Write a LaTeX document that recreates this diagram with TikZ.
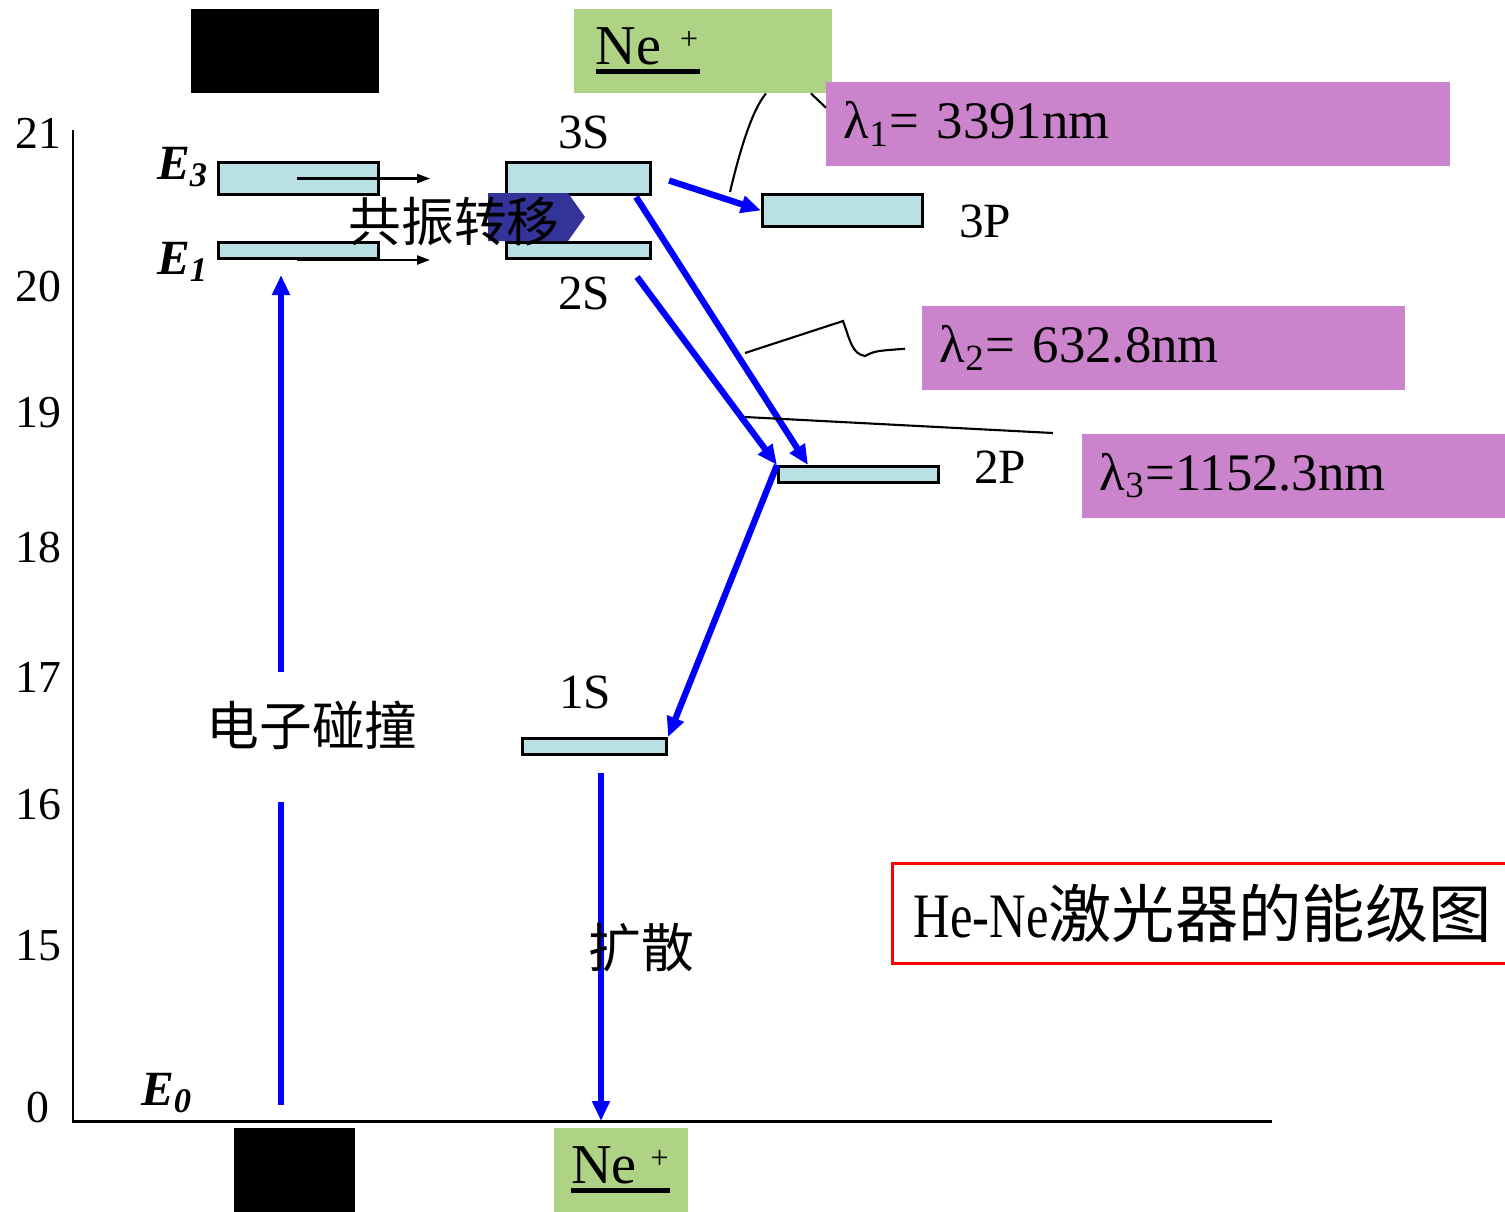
\documentclass[tikz,border=0pt]{standalone}
\usepackage{fontspec}
\setmainfont{Liberation Serif}
\newfontfamily\cjk{Noto Sans CJK SC}
\newcommand\ulthick[1]{\leavevmode\setbox0=\hbox{#1}\rlap{\rule[-0.09cm]{\wd0}{1.4pt}}\box0}
\usetikzlibrary{calc,arrows.meta}
\definecolor{levelcyan}{RGB}{185,224,227}
\definecolor{negreen}{RGB}{175,211,132}
\definecolor{lampurple}{RGB}{203,132,203}
\definecolor{chevblue}{RGB}{51,51,153}
\tikzstyle{level}=[draw=black, line width=0.85pt, fill=levelcyan, inner sep=0pt, anchor=north west]
\tikzstyle{trans}=[draw=blue, line width=1.8pt, -{Triangle[length=0.2cm, width=0.17cm]}]
\tikzstyle{pump}=[draw=blue, line width=1.8pt]
\tikzstyle{handover}=[line width=0.6pt, -{Triangle[length=0.13cm, width=0.09cm]}]
\tikzstyle{callout}=[line width=0.6pt]
\tikzstyle{tick}=[font=\fontsize{13pt}{15pt}\selectfont]
\tikzstyle{lvlname}=[font=\fontsize{14pt}{16pt}\selectfont]
\tikzstyle{energy}=[font=\fontsize{14pt}{16pt}\selectfont\bfseries\itshape]
\tikzstyle{lambdabox}=[fill=lampurple, anchor=north west, minimum height=0.84cm, inner xsep=0.18cm, align=left, font=\fontsize{15pt}{17pt}\selectfont]
\tikzstyle{ionbox}=[fill=negreen, anchor=north west, minimum height=0.84cm, font=\fontsize{16pt}{18pt}\selectfont]
\tikzstyle{hidden}=[fill=black, inner sep=0pt, anchor=north west]
\tikzstyle{zh}=[font=\cjk\fontsize{15pt}{17pt}\selectfont]

\begin{document}
\begin{tikzpicture}[x=0.01cm, y=-0.01cm]
\useasboundingbox (0,0) rectangle (1505,1211);

\node[hidden, minimum width=1.88cm, minimum height=0.84cm] (heTop) at (190,8) {};
\node[hidden, minimum width=1.21cm, minimum height=0.84cm] (heBot) at (233,1127) {};
\node[ionbox, text width=2.14cm, inner xsep=0.22cm, align=left] (neTop) at (573,8) {\ulthick{Ne {\fontsize{13pt}{15pt}\selectfont\textsuperscript{+}}}};
\node[ionbox, minimum width=1.34cm] (neBot) at (553,1127) {\ulthick{Ne {\fontsize{13pt}{15pt}\selectfont\textsuperscript{+}}}};

\coordinate (origin) at (73,1121);
\draw[line width=0.85pt] (73,130) -- (origin) -- (1272,1121);
\foreach \v/\y in {21/133, 20/287, 19/413, 18/548, 17/677, 16/805, 15/946, 0/1108}
  \node[tick] (t\v) at (38,\y) {\v};

\node[energy] (E3) at (183,167) {E\textsubscript{3}};
\node[energy] (E1) at (183,262) {E\textsubscript{1}};
\node[energy] (E0) at (167,1093) {E\textsubscript{0}};

\node[level, minimum width=1.6cm, minimum height=0.32cm] (he3) at (217,161) {};
\node[level, minimum width=1.6cm, minimum height=0.16cm] (he1) at (217,241) {};
\node[level, minimum width=1.44cm, minimum height=0.32cm] (s3) at (505,161) {};
\node[level, minimum width=1.44cm, minimum height=0.16cm] (s2) at (505,241) {};
\node[level, minimum width=1.6cm, minimum height=0.32cm] (p3) at (761,193) {};
\node[level, minimum width=1.6cm, minimum height=0.16cm] (p2) at (777,465) {};
\node[level, minimum width=1.44cm, minimum height=0.16cm] (s1) at (521,737) {};

\node[lvlname] (l3S) at (584,132) {3S};
\node[lvlname] (l2S) at (584,293) {2S};
\node[lvlname] (l3P) at (985,221) {3P};
\node[lvlname] (l2P) at (1000,467) {2P};
\node[lvlname] (l1S) at (585,692) {1S};

\draw[handover] ($(he3.west)+(80,0)$) -- ($(he3.east)+(50,0)$);
\draw[handover] ($(he1.south west)+(80,0)$) -- ($(he1.south east)+(50,0)$);

\fill[chevblue] (488,193) -- (568,193) -- (585,217) -- (568,241) -- (488,241) -- cycle;
\node[zh] (reso) at (454,222) {共振转移};

\coordinate (pumpA) at (281,1105);
\coordinate (pumpB) at (281,802);
\coordinate (pumpC) at (281,672);
\draw[pump] (pumpA) -- (pumpB);
\draw[trans] (pumpC) -- ($(he1.south west)+(64,15)$);
\node[zh] (collide) at (312,725) {电子碰撞};

\draw[trans] ($(s3.east)+(17,2)$) -- (p3.west);
\draw[trans] ($(s3.south east)+(-16,1)$) -- ($(p2.north west)+(31,0)$);
\draw[trans] ($(s2.south east)+(-15,17)$) -- (p2.north west);
\draw[trans] (p2.north west) -- (s1.north east);
\coordinate (diff) at (601,1121);
\draw[trans] ($(s1.south -| diff)+(0,17)$) -- (diff);
\node[zh] (spread) at (641,948) {扩散};

\node[lambdabox, text width=5.88cm] (lam1) at (825,81) {λ\textsubscript{1}= 3391nm};
\node[lambdabox, text width=4.47cm] (lam2) at (921,305) {λ\textsubscript{2}= 632.8nm};
\node[lambdabox, text width=3.88cm] (lam3) at (1081,433) {λ\textsubscript{3}=1152.3nm};

\coordinate (c1) at (730,192);
\coordinate (c2) at (745,353);
\coordinate (c3) at (745,417);
\draw[callout] (c1) .. controls (740,150) and (752,110) .. ($(neTop.south west)+(193,0)$);
\draw[callout] ($(neTop.south west)+(238,0)$) -- ($(lam1.west)+(1,-16)$);
\draw[callout] (c2) -- (843,321) .. controls (850,340) and (852,354) .. (865,356) .. controls (875,351) .. ($(lam2.west)+(-16,1)$);
\draw[callout] (c3) -- ($(lam3.north west)+(-28,0)$);

\node[draw=red, line width=0.85pt, anchor=north west, minimum width=6.2cm, minimum height=1cm, font=\fontsize{18pt}{20pt}\selectfont] (title) at (891,862) {\scalebox{0.8}[1]{He-Ne}{\cjk 激光器的能级图}};
\end{tikzpicture}
\end{document}
